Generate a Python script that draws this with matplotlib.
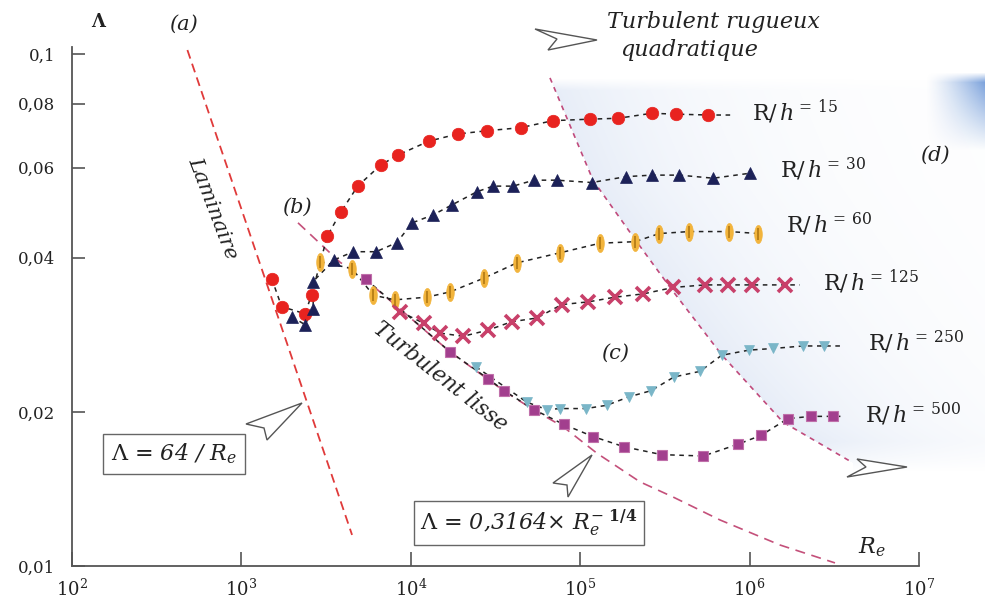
import numpy as np
import matplotlib
matplotlib.use('Agg')
import matplotlib.pyplot as plt
from matplotlib.path import Path
from matplotlib.patches import Polygon
from matplotlib.ticker import NullLocator

plt.rcParams['font.family'] = ['DejaVu Serif']
plt.rcParams['mathtext.fontset'] = 'dejavuserif'

W, H = 985, 610

# ---------------- data ----------------
re_15 = [1510, 1729, 2374, 2600, 3214, 3873, 4860, 6643, 8404, 12810, 18990, 28060,
         44550, 69090, 114300, 167800, 264300, 367800, 570400]
lam_15 = [0.0364, 0.0321, 0.0311, 0.0339, 0.0441, 0.0492, 0.0552, 0.0607, 0.0635, 0.0676,
          0.0698, 0.0708, 0.0718, 0.0741, 0.0746, 0.0749, 0.0766, 0.0763, 0.0760]

re_30 = [1981, 2374, 2657, 2640, 3520, 4577, 6231, 8256, 10200, 13520, 17440, 24490, 30570,
         40120, 53370, 72650, 116900, 186400, 264300, 384600, 610600, 1005000]
lam_30 = [0.0307, 0.0296, 0.0318, 0.0359, 0.0396, 0.0411, 0.0411, 0.0428, 0.0468, 0.0485,
          0.0507, 0.0538, 0.0552, 0.0552, 0.0567, 0.0567, 0.0561, 0.0576, 0.0580, 0.0580,
          0.0572, 0.0585]

re_60 = [2911, 4498, 6005, 8066, 12413, 17040, 27040, 42370, 76000, 130900, 210600, 293100,
         440600, 759000, 1126000]
lam_60 = [0.0393, 0.0381, 0.0338, 0.0331, 0.0335, 0.0343, 0.0365, 0.0391, 0.0409, 0.0427,
          0.0430, 0.0446, 0.0450, 0.0450, 0.0446]

re_125 = [8636, 11900, 14870, 20410, 28680, 39410, 55370, 77770, 111600, 160500, 235800,
          354500, 545400, 748700, 1029000, 1618000]
lam_125 = [0.0314, 0.0298, 0.0285, 0.0281, 0.0289, 0.0300, 0.0305, 0.0324, 0.0328, 0.0335,
           0.0340, 0.0350, 0.0354, 0.0354, 0.0354, 0.0354]

re_250 = [24200, 48330, 63420, 76000, 108000, 143400, 194000, 262000, 358000, 509600,
          684400, 990000, 1380000, 2075000, 2750000]
lam_250 = [0.0245, 0.0209, 0.0202, 0.0203, 0.0203, 0.0206, 0.0214, 0.0220, 0.0234, 0.0240,
           0.0258, 0.0264, 0.0266, 0.0269, 0.0269]

re_500 = [5438, 17040, 28680, 35500, 53370, 80000, 119000, 181000, 302800, 533000, 857700,
          1170000, 1680000, 2300000, 3120000]
lam_500 = [0.0363, 0.0262, 0.0232, 0.0220, 0.0202, 0.0189, 0.0179, 0.0171, 0.0165, 0.0164,
           0.0173, 0.0180, 0.0194, 0.0196, 0.0196]

# Re at which each dashed connecting line stops (None = at last marker)
line_end_re = {15: 7.8e5, 30: None, 60: None, 125: 1.98e6, 250: 3.56e6, 500: 3.56e6}

# laminar law (a), smooth turbulent law (b), rough boundary
laminar_re = [480, 4500]
laminar_lam = [0.1018, 0.0115]
blasius_re = [2158, 3821, 5438, 17040, 35990, 52870, 79470, 125700, 225400, 353000,
              669000, 1512000, 3192000]
blasius_lam = [0.0468, 0.0392, 0.0362, 0.0262, 0.0219, 0.0202, 0.0187, 0.0166, 0.0146,
               0.01364, 0.0123, 0.01099, 0.01014]
rough_re = [66330, 119000, 216400, 348300, 687300, 1575000, 4077000]
rough_lam = [0.0898, 0.0567, 0.0429, 0.0346, 0.0258, 0.0191, 0.0159]

xtick_vals = [1e2, 1e3, 1e4, 1e5, 1e6, 1e7]
xtick_labels = [r'$10^{2}$', r'$10^{3}$', r'$10^{4}$', r'$10^{5}$', r'$10^{6}$', r'$10^{7}$']
ytick_vals = [0.01, 0.02, 0.04, 0.06, 0.08, 0.1]
ytick_labels = ['0,01', '0,02', '0,04', '0,06', '0,08', '0,1']

# ---------------- figure ----------------
fig = plt.figure(figsize=(W / 100, H / 100), dpi=100)
fig.patch.set_facecolor('white')

ax = fig.add_axes([72 / W, 44 / H, 847 / W, 519 / H], zorder=1)
ax.patch.set_alpha(0)
ax.set_xscale('log')
ax.set_yscale('log')
ax.set_xlim(1e2, 1e7)
ax.set_ylim(0.01, 10 ** (-1 + 7 / 512))


def fpx(x, y):
    return (x / W, 1 - y / H)


# background shading (blue tint right of rough boundary)
bg = fig.add_axes([0, 0, 1, 1], zorder=-1)
bg.axis('off')
pts = ax.transData.transform(np.c_[rough_re, rough_lam])
bxp = pts[:, 0]
byp = H - pts[:, 1]
order = np.argsort(byp)
yy, xx = np.mgrid[0:H, 0:W]
xb = np.interp(yy[:, 0], byp[order], bxp[order])[:, None]
d = xx - xb
alpha = np.where(d > 0, 0.38 * np.exp(-d / 140.0), 0.0)
alpha *= np.clip((yy - byp.min()) / 12.0, 0, 1)
alpha *= np.clip((byp.max() + 8 - yy) / 30.0, 0, 1)
layer = np.zeros((H, W, 4))
layer[..., 0] = 192 / 255
layer[..., 1] = 208 / 255
layer[..., 2] = 236 / 255
layer[..., 3] = alpha
bg.imshow(layer, extent=[0, W, H, 0], interpolation='bilinear')
# top right darker patch
a2 = np.clip((xx - 925) / 60.0, 0, 1) ** 1.3 * np.clip((150 - yy) / 70.0, 0, 1) * np.clip((yy - 72) / 10.0, 0, 1)
layer2 = np.zeros((H, W, 4))
layer2[..., 0] = 85 / 255
layer2[..., 1] = 135 / 255
layer2[..., 2] = 210 / 255
layer2[..., 3] = 0.8 * a2
bg.imshow(layer2, extent=[0, W, H, 0], interpolation='bilinear')
bg.set_xlim(0, W)
bg.set_ylim(H, 0)

# reference laws
ax.plot(laminar_re, laminar_lam, color='#e03a3a', lw=1.3, dashes=(5, 3), zorder=2)
ax.plot(blasius_re, blasius_lam, color='#c4507a', lw=1.2, dashes=(6, 4), zorder=2)
ax.plot(rough_re, rough_lam, color='#c04a7c', lw=1.2, dashes=(3, 3), zorder=2)

# markers
theta = np.linspace(0, 2 * np.pi, 41)
ellipse = Path(np.c_[0.42 * np.sin(theta), np.cos(theta)], closed=True)

styles = {
    15: dict(marker='o', ms=9, mfc='#e8231f', mec='#e8231f', mew=0.5),
    30: dict(marker='^', ms=8, mfc='#1c2158', mec='#1c2158', mew=0.5),
    60: dict(marker=ellipse, ms=13, mfc='#f2b43c', mec='#f2b43c', mew=0.5),
    125: dict(marker='x', ms=10, mfc='none', mec='#c8406a', mew=2.6),
    250: dict(marker='v', ms=6.5, mfc='#7ab6c8', mec='#7ab6c8', mew=0.5),
    500: dict(marker='s', ms=7.5, mfc='#a23f8e', mec='#c070aa', mew=0.8),
}
series = [(15, re_15, lam_15), (30, re_30, lam_30), (60, re_60, lam_60),
          (125, re_125, lam_125), (250, re_250, lam_250), (500, re_500, lam_500)]

for key, re, lam in series:
    lre = list(re)
    llam = list(lam)
    if line_end_re[key] is not None:
        lre = lre + [line_end_re[key]]
        llam = llam + [lam[-1]]
    ax.plot(lre, llam, color='#222222', lw=1.1, dashes=(3, 3), zorder=3)
    ax.plot(re, lam, ls='none', zorder=4, **styles[key])
    if key == 60:
        ax.plot(re, lam, ls='none', marker='|', ms=9, mew=1.2, color='#b07814', zorder=5)

# axes styling
for s in ['top', 'right']:
    ax.spines[s].set_visible(False)
for s in ['left', 'bottom']:
    ax.spines[s].set_color('#555555')
    ax.spines[s].set_linewidth(1.3)
ax.set_xticks(xtick_vals)
ax.set_xticklabels(xtick_labels)
ax.set_yticks(ytick_vals)
ax.set_yticklabels(ytick_labels)
ax.xaxis.set_minor_locator(NullLocator())
ax.yaxis.set_minor_locator(NullLocator())
ax.tick_params(axis='x', direction='in', length=10, width=1.2, color='#555555',
               pad=9, labelsize=13, labelcolor='#222222')
ax.tick_params(axis='y', direction='in', length=9, width=1.2, color='#555555',
               pad=12, labelsize=12, labelcolor='#222222')

# texts
def ftext(x, y, s, **kw):
    kw.setdefault('ha', 'center')
    kw.setdefault('va', 'center')
    kw.setdefault('color', '#222222')
    fig.text(x / W, 1 - y / H, s, zorder=6, **kw)

ftext(98, 22, 'Λ', fontsize=13, fontweight='bold')
ftext(183, 24, '(a)', fontsize=15, style='italic')
ftext(213, 208, 'Laminaire', fontsize=15, style='italic', rotation=-69, rotation_mode='anchor')
ftext(297, 207, '(b)', fontsize=15, style='italic')
ftext(440, 377, 'Turbulent lisse', fontsize=15.5, style='italic', rotation=-38, rotation_mode='anchor')
ftext(615, 353, '(c)', fontsize=15, style='italic')
ftext(935, 155, '(d)', fontsize=15, style='italic')
ftext(607, 22, 'Turbulent rugueux', fontsize=16, style='italic', ha='left')
ftext(620, 50, 'quadratique', fontsize=16, style='italic', ha='left')
ftext(872, 547, r'$R_e$', fontsize=16)

label_pos = {15: (752, 120), 30: (780, 178), 60: (786, 233), 125: (823, 290),
             250: (868, 351), 500: (865, 423)}
for key, (x, y) in label_pos.items():
    ftext(x, y, r'$\mathrm{R}/\,h^{{=}\,%d}$' % key, fontsize=16, ha='left', va='baseline')

ftext(174, 454, r'$\Lambda$ = 64 / $R_e$', fontsize=16, style='italic',
      bbox=dict(boxstyle='square,pad=0.35', fc='white', ec='#666666', lw=1.0))
ftext(529, 523, r'$\Lambda$ = 0,3164× $R_e^{-\ \mathbf{1/4}}$', fontsize=16, style='italic',
      bbox=dict(boxstyle='square,pad=0.3', fc='white', ec='#666666', lw=1.0))

# open dart arrows
arrows = [
    [(597, 40), (535, 29), (557, 39), (548, 50)],
    [(302, 403), (246, 424), (264, 428), (267, 440)],
    [(592, 455), (553, 483), (567, 485), (568, 497)],
    [(907, 467), (857, 459), (866, 467), (847, 477)],
]
for poly in arrows:
    fig.patches.append(Polygon([fpx(x, y) for x, y in poly], closed=True,
                               transform=fig.transFigure, fc='white', ec='#555555',
                               lw=1.0, zorder=5))

fig.savefig('out.png', dpi=100, facecolor='white')
